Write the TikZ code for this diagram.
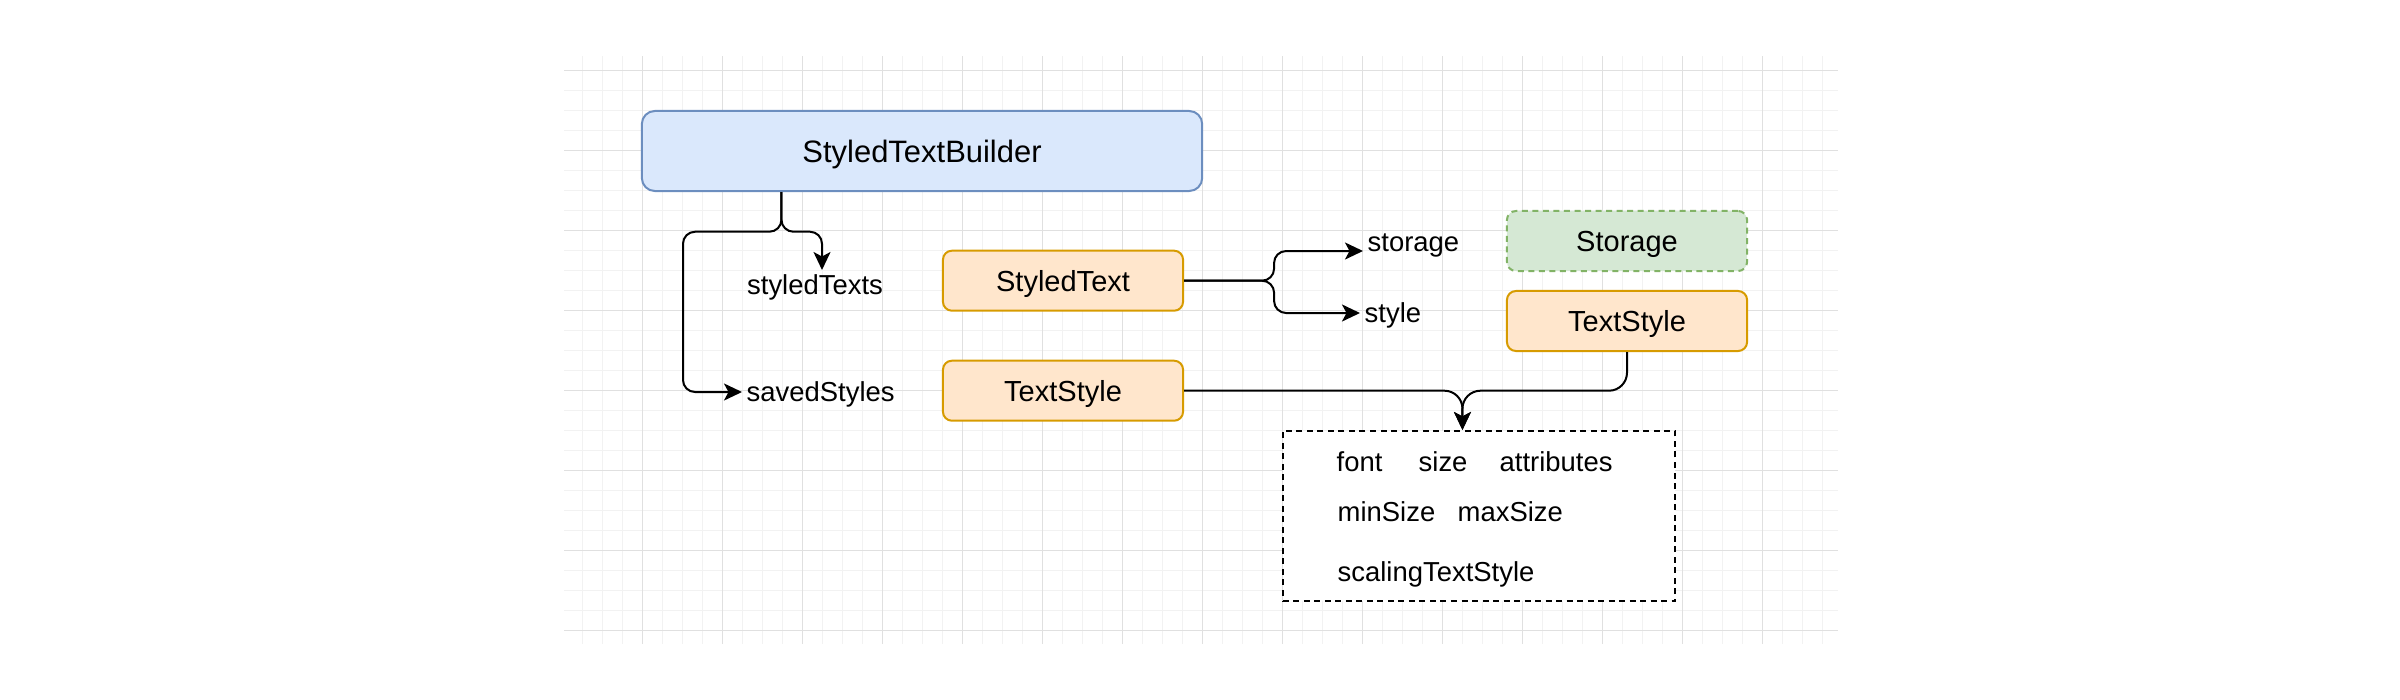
\documentclass[tikz,border=0pt]{standalone}
\usepackage{fontspec}
\setmainfont{Liberation Sans}
\usetikzlibrary{arrows.meta,calc}

\definecolor{builderFill}{HTML}{DAE8FC}
\definecolor{builderLine}{HTML}{6C8EBF}
\definecolor{classFill}{HTML}{FFE6CC}
\definecolor{classLine}{HTML}{D79B00}
\definecolor{storeFill}{HTML}{D5E8D4}
\definecolor{storeLine}{HTML}{82B366}
\definecolor{gridMinor}{HTML}{F2F2F2}
\definecolor{gridMajor}{HTML}{E0E0E0}

\tikzset{
  box/.style={draw, rounded corners=0.09cm, line width=0.02cm, minimum width=2.4cm, minimum height=0.6cm,
    inner sep=0pt, text height=0.21cm, text depth=0pt, font=\fontsize{8.25}{10}\selectfont},
  classbox/.style={box, fill=classFill, draw=classLine},
  dashline/.style={dash pattern=on 0.06cm off 0.045cm},
  lbl/.style={inner sep=0.04cm, text height=0.196cm, text depth=0pt, font=\fontsize{7.8}{9.4}\selectfont},
  conn/.style={line width=0.02cm, rounded corners=0.12cm, -{Stealth[length=0.18cm,width=0.17cm,inset=0.045cm]}},
}

\begin{document}
\begin{tikzpicture}[x=0.01cm, y=-0.01cm]
        \useasboundingbox (0,0) rectangle (2400,700);

        % --- Draw background grid ---
        \foreach \x in {582,602,...,1822} \draw[gridMinor, line width=0.01cm] (\x,56) -- (\x,644);
        \foreach \y in {70,90,...,630} \draw[gridMinor, line width=0.01cm] (564,\y) -- (1838,\y);
        \foreach \x in {642,722,...,1762} \draw[gridMajor, line width=0.01cm] (\x,56) -- (\x,644);
        \foreach \y in {70,150,...,630} \draw[gridMajor, line width=0.01cm] (564,\y) -- (1838,\y);
        % ---

        % --- Draw builder and classes ---
        \node[box, fill=builderFill, draw=builderLine, minimum width=5.6cm, minimum height=0.8cm, rounded corners=0.13cm,
          text height=0.22cm, font=\fontsize{8.8}{10.5}\selectfont] (builder) at (922,151) {StyledTextBuilder};
        \node[classbox] (styledText) at (1063,280.7) {StyledText};
        \node[classbox] (textStyleL) at (1063,390.7) {TextStyle};
        \node[box, fill=storeFill, draw=storeLine, dashline] (storage) at (1627,241) {Storage};
        \node[classbox] (textStyleR) at (1627,321) {TextStyle};
        % ---

        % --- Draw member labels ---
        \node[lbl, anchor=north] (styledTexts) at (815,270) {styledTexts};
        \node[lbl, anchor=west] (savedStyles) at (742,392) {savedStyles};
        \node[lbl, anchor=west] (storageLbl) at (1363,242) {storage};
        \node[lbl, anchor=west] (styleLbl) at (1360,313) {style};
        % ---

        % --- Draw text style fields ---
        \node[draw, dashline, fill=white, line width=0.02cm, minimum width=3.92cm, minimum height=1.7cm] (fields) at (1479,516) {};
        \node[lbl, anchor=base west] (font) at (1332,471) {font};
        \node[lbl, anchor=base west] (size) at (1414,471) {size};
        \node[lbl, anchor=base west] (attributes) at (1495,471) {attributes};
        \node[lbl, anchor=base west] (minSize) at (1333,521.7) {minSize};
        \node[lbl, anchor=base west] (maxSize) at (1453,521.7) {maxSize};
        \node[lbl, anchor=base west] (scaling) at (1333,581) {scalingTextStyle};
        % ---

        % --- Draw connectors ---
        \coordinate (builderOut) at ($(builder.south west)!0.25!(builder.south east)$);
        \coordinate (fieldsIn) at ($(fields.north west)!0.458!(fields.north east)$);
        \draw[conn] (builderOut) -- ++(0,39.7) -| ($(savedStyles.west)+(-59,0)$) -- (savedStyles.west);
        \draw[conn] (builderOut) -- ++(0,39.7) -| ([xshift=0.07cm]styledTexts.north);
        \draw[conn] (styledText.east) -- ++(90,0) |- ([yshift=-0.09cm]storageLbl.west);
        \draw[conn] (styledText.east) -- ++(90,0) |- (styleLbl.west);
        \draw[conn, rounded corners=0.18cm] (textStyleL.east) -| (fieldsIn);
        \draw[conn, rounded corners=0.18cm] (textStyleR.south) |- (textStyleL.east -| fieldsIn) -- (fieldsIn);
        % ---
\end{tikzpicture}
\end{document}
